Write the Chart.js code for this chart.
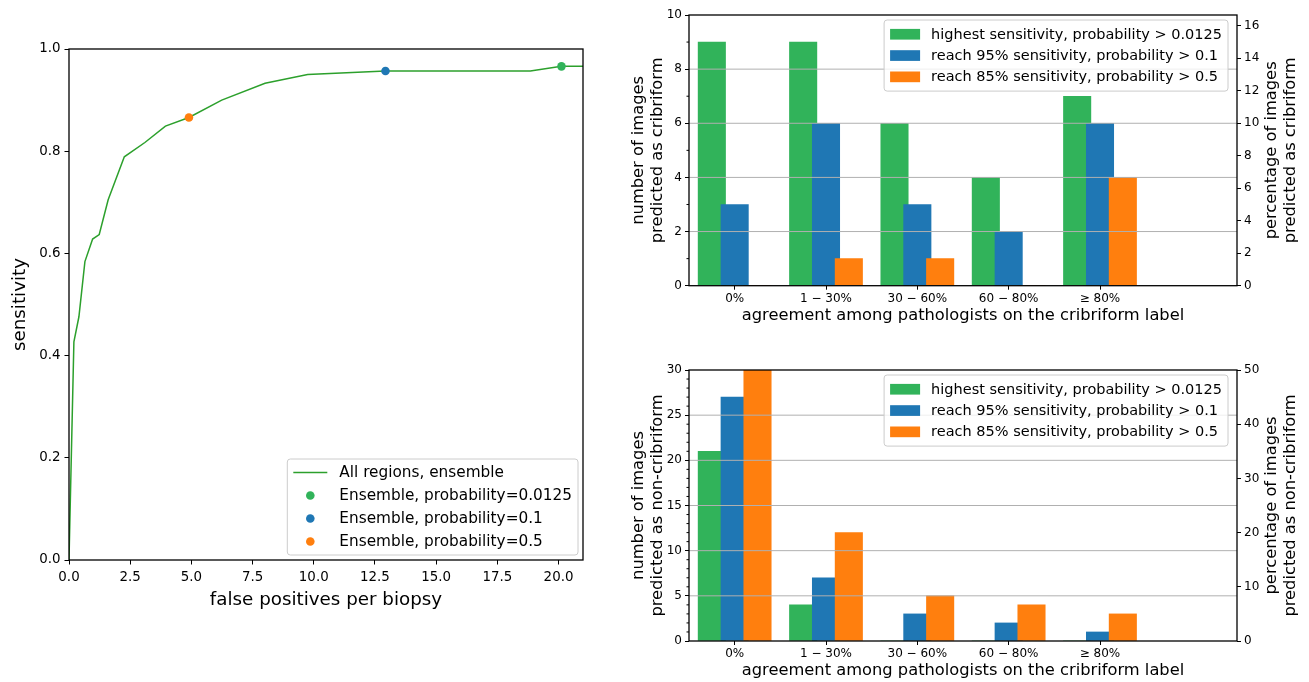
<!DOCTYPE html>
<html><head><meta charset="utf-8">
<script src="https://cdn.jsdelivr.net/npm/chart.js@4.4.0/dist/chart.umd.min.js"></script>
<style>
html,body{margin:0;padding:0;background:#fff;}
#wrap{position:relative;width:1309px;height:682px;overflow:hidden;background:#fff;}
canvas{position:absolute;}
</style></head><body>
<div id="wrap">
<canvas id="roc" width="600" height="682" style="left:0;top:0;width:600px;height:682px"></canvas>
<canvas id="crib" width="709" height="341" style="left:600px;top:0;width:709px;height:341px"></canvas>
<canvas id="noncrib" width="709" height="341" style="left:600px;top:341px;width:709px;height:341px"></canvas>
</div>
<script>
// ---------------- data ----------------
// ROC-like curve (left panel)
const falsePositives = [0, 0.2, 0.405, 0.65, 0.965, 1.235, 1.6, 2.26, 3.10, 3.94, 4.90, 6.24, 8.01, 9.75, 12.93, 18.85, 20.12, 21.0];
const sensitivity    = [0, 0.427, 0.476, 0.584, 0.628, 0.637, 0.705, 0.789, 0.817, 0.849, 0.866, 0.900, 0.933, 0.950, 0.957, 0.957, 0.966, 0.966];
const curveLabel = 'All regions, ensemble';
const pointLabels = ['Ensemble, probability=0.0125', 'Ensemble, probability=0.1', 'Ensemble, probability=0.5'];
const pointFP   = [20.12, 12.93, 4.90];
const pointSens = [0.966, 0.957, 0.866];

// bar panels (right)
const agreeLabels = ['0%', '1 \u2212 30%', '30 \u2212 60%', '60 \u2212 80%', '\u2265 80%'];
const seriesNames = ['highest sensitivity, probability > 0.0125', 'reach 95% sensitivity, probability > 0.1', 'reach 85% sensitivity, probability > 0.5'];
const cribHighest  = [9, 9, 6, 4, 7];
const cribReach95  = [3, 6, 3, 2, 6];
const cribReach85  = [0, 1, 1, 0, 4];
const nonHighest   = [21, 4, 0, 0, 0];
const nonReach95   = [27, 7, 3, 2, 1];
const nonReach85   = [30, 12, 5, 4, 3];
const totalImages = 60;

// ---------------- styles ----------------
const FONT = '"DejaVu Sans", "Liberation Sans", sans-serif';
const TEXT = '#000';
const curveColor = '#2ca02c';
const pointColors = ['#31b35a', '#1f77b4', '#ff7f0e'];
const seriesColors = ['#31b35a', '#1f77b4', '#ff7f0e'];
const groupOffsets = [-0.25, 0, 0.25];
const barWidthUnits = 0.3;

Chart.defaults.font.family = FONT;
Chart.defaults.color = TEXT;
Chart.defaults.animation = false;

function roundRectPath(ctx, x, y, w, h, r) {
  ctx.beginPath();
  ctx.moveTo(x + r, y);
  ctx.lineTo(x + w - r, y); ctx.arcTo(x + w, y, x + w, y + r, r);
  ctx.lineTo(x + w, y + h - r); ctx.arcTo(x + w, y + h, x + w - r, y + h, r);
  ctx.lineTo(x + r, y + h); ctx.arcTo(x, y + h, x, y + h - r, r);
  ctx.lineTo(x, y + r); ctx.arcTo(x, y, x + r, y, r);
  ctx.closePath();
}

const framePlugin = {
  id: 'frame',
  afterDraw(chart) {
    const {ctx, chartArea: a} = chart;
    ctx.save();
    ctx.strokeStyle = '#000';
    ctx.lineWidth = 1.3;
    ctx.strokeRect(a.left, a.top, a.right - a.left, a.bottom - a.top);
    ctx.restore();
  }
};

const gridOverPlugin = {
  id: 'gridOver',
  afterDatasetsDraw(chart) {
    const {ctx, chartArea: a, scales: {y}} = chart;
    ctx.save();
    ctx.strokeStyle = '#b0b0b0';
    ctx.lineWidth = 1;
    y.ticks.forEach(t => {
      const py = y.getPixelForValue(t.value);
      if (py <= a.top + 1 || py >= a.bottom - 1) return;
      ctx.beginPath(); ctx.moveTo(a.left, py); ctx.lineTo(a.right, py); ctx.stroke();
    });
    ctx.restore();
  }
};

function minorTickPlugin(step) {
  return {
    id: 'minorTicks',
    afterDraw(chart) {
      const {ctx, chartArea: a, scales: {y}} = chart;
      ctx.save();
      ctx.strokeStyle = '#000';
      ctx.lineWidth = 1;
      for (let v = y.min; v <= y.max + 1e-9; v += step) {
        if (y.ticks.some(t => Math.abs(t.value - v) < 1e-9)) continue;
        const py = y.getPixelForValue(v);
        ctx.beginPath(); ctx.moveTo(a.left - 2.5, py); ctx.lineTo(a.left, py); ctx.stroke();
      }
      ctx.restore();
    }
  };
}

const barWidthPlugin = {
  id: 'barWidth',
  afterLayout(chart) {
    const x = chart.scales.x;
    const w = Math.abs(x.getPixelForValue(barWidthUnits) - x.getPixelForValue(0));
    chart.data.datasets.forEach(d => { d.barThickness = w; });
  }
};

function rightTitlePlugin(lines, o) {
  return {
    id: 'rightTitle',
    afterDraw(chart) {
      const {ctx, chartArea: a} = chart;
      ctx.save();
      ctx.font = o.size + 'px ' + FONT;
      ctx.fillStyle = TEXT;
      ctx.textAlign = 'center';
      ctx.textBaseline = 'middle';
      ctx.translate(a.right + o.offset, (a.top + a.bottom) / 2);
      ctx.rotate(-Math.PI / 2);
      lines.forEach((l, i) => ctx.fillText(l, 0, i * o.lineH));
      ctx.restore();
    }
  };
}

function legendPlugin(o) {
  return {
    id: 'boxLegend',
    afterDraw(chart) {
      const {ctx, chartArea: a} = chart;
      const items = chart.data.datasets.map(d => ({label: d.label, color: d.legendColor || d.backgroundColor, kind: d.legendKind || 'patch'}));
      ctx.save();
      ctx.font = o.fontSize + 'px ' + FONT;
      const tw = Math.max(...items.map(it => ctx.measureText(it.label).width));
      const w = o.padL + o.handle + o.gap + tw + o.padR;
      const h = o.padY * 2 + items.length * o.rowH;
      const x0 = a.right - o.insetRight - w;
      const y0 = o.vAlign === 'top' ? a.top + o.insetV : a.bottom - o.insetV - h;
      roundRectPath(ctx, x0, y0, w, h, 3);
      ctx.fillStyle = 'rgba(255,255,255,0.8)';
      ctx.fill();
      ctx.strokeStyle = '#cccccc';
      ctx.lineWidth = 1;
      ctx.stroke();
      items.forEach((it, i) => {
        const cy = y0 + o.padY + o.rowH * (i + 0.5);
        const hx = x0 + o.padL;
        if (it.kind === 'line') {
          ctx.strokeStyle = it.color; ctx.lineWidth = 1.5;
          ctx.beginPath(); ctx.moveTo(hx, cy); ctx.lineTo(hx + o.handle, cy); ctx.stroke();
        } else if (it.kind === 'dot') {
          ctx.fillStyle = it.color;
          ctx.beginPath(); ctx.arc(hx + o.handle / 2, cy, 4.3, 0, Math.PI * 2); ctx.fill();
        } else {
          ctx.fillStyle = it.color;
          ctx.fillRect(hx, cy - o.patchH / 2, o.handle, o.patchH);
        }
        ctx.fillStyle = TEXT;
        ctx.textBaseline = 'middle';
        ctx.textAlign = 'left';
        ctx.fillText(it.label, hx + o.handle + o.gap, cy + 0.5);
      });
      ctx.restore();
    }
  };
}

const tickGrid = {display: true, drawOnChartArea: false, drawTicks: true, tickLength: 4, tickColor: '#000', tickWidth: 1, offset: false};

// ---------------- left panel ----------------
new Chart('roc', {
  type: 'scatter',
  data: {
    datasets: [
      {
        label: curveLabel,
        data: falsePositives.map((x, i) => ({x, y: sensitivity[i]})),
        showLine: true, borderColor: curveColor, borderWidth: 1.5,
        pointRadius: 0, order: 5, legendKind: 'line', legendColor: curveColor
      },
      ...pointLabels.map((lab, k) => ({
        label: lab,
        data: [{x: pointFP[k], y: pointSens[k]}],
        showLine: false, pointRadius: 4.3, pointBorderWidth: 0,
        backgroundColor: pointColors[k], pointBackgroundColor: pointColors[k],
        order: 1, legendKind: 'dot', legendColor: pointColors[k]
      }))
    ]
  },
  options: {
    responsive: false,
    animation: false,
    layout: {padding: {left: 0, right: 17, top: 49, bottom: 70}},
    plugins: {legend: {display: false}, tooltip: {enabled: false}},
    scales: {
      x: {
        type: 'linear', min: 0, max: 21,
        ticks: {stepSize: 2.5, includeBounds: false, callback: v => Number(v).toFixed(1), font: {size: 13.4}, padding: 5, maxRotation: 0, autoSkip: false},
        grid: {...tickGrid, tickLength: 4.5},
        border: {display: false},
        title: {display: true, text: 'false positives per biopsy', font: {size: 18.3}, padding: {top: 0, bottom: 1}},
        afterFit(s) { s.height = 52; }
      },
      y: {
        min: 0, max: 1,
        ticks: {stepSize: 0.2, callback: v => Number(v).toFixed(1), font: {size: 13.4}, padding: 4},
        grid: {...tickGrid, tickLength: 4.5},
        border: {display: false},
        title: {display: true, text: 'sensitivity', font: {size: 18.3}, padding: {top: 9, bottom: 0}},
        afterFit(s) { s.width = 69; }
      }
    }
  },
  plugins: [framePlugin, legendPlugin({fontSize: 15.3, padL: 6, handle: 34, gap: 12, padR: 6, padY: 2, rowH: 23, insetRight: 5, insetV: 5, vAlign: 'bottom', patchH: 10})]
});

// ---------------- right panels ----------------
function barPanel(id, series, leftMax, leftStep, minorStep, rightStep, leftTitle, rightTitle, padTop, padBottom) {
  return new Chart(id, {
    type: 'bar',
    data: {
      datasets: series.map((vals, k) => ({
        label: seriesNames[k],
        data: vals.map((v, i) => ({x: i + groupOffsets[k], y: v})),
        backgroundColor: seriesColors[k],
        borderWidth: 0,
        grouped: false,
        order: series.length - k,
        xAxisID: 'x', yAxisID: 'y'
      }))
    },
    options: {
      responsive: false,
      animation: false,
      layout: {padding: {left: 0, right: 0, top: padTop, bottom: padBottom}},
      plugins: {legend: {display: false}, tooltip: {enabled: false}},
      scales: {
        x: {
          type: 'linear', min: -0.5, max: agreeLabels.length + 0.5, offset: false,
          afterBuildTicks(s) { s.ticks = agreeLabels.map((_, i) => ({value: i})); },
          ticks: {callback: v => agreeLabels[v] ?? '', font: {size: 12}, padding: 2, autoSkip: false, maxRotation: 0},
          grid: tickGrid,
          border: {display: false},
          title: {display: true, text: 'agreement among pathologists on the cribriform label', font: {size: 16.3}, padding: {top: 0, bottom: 1.3}},
          afterFit(s) { s.height = 41; }
        },
        y: {
          min: 0, max: leftMax,
          ticks: {stepSize: leftStep, font: {size: 12}, padding: 3},
          grid: tickGrid,
          border: {display: false},
          title: {display: true, text: leftTitle, font: {size: 16.3, lineHeight: 1.15}, padding: {top: 29.6, bottom: 0}},
          afterFit(s) { s.width = 89; }
        },
        y2: {
          position: 'right',
          min: 0, max: leftMax * 100 / totalImages,
          ticks: {stepSize: rightStep, includeBounds: false, font: {size: 12}, padding: 3},
          grid: tickGrid,
          border: {display: false},
          afterFit(s) { s.width = 72; }
        }
      }
    },
    plugins: [barWidthPlugin, gridOverPlugin, framePlugin, minorTickPlugin(minorStep),
      rightTitlePlugin(rightTitle, {size: 16.3, offset: 35, lineH: 18.7}),
      legendPlugin({fontSize: 14.5, padL: 6, handle: 30, gap: 11, padR: 6, padY: 3.6, rowH: 21.3, insetRight: 9, insetV: 5, vAlign: 'top', patchH: 10.7})]
  });
}

barPanel('crib', [cribHighest, cribReach95, cribReach85], 10, 2, 1, 2,
  ['number of images', 'predicted as cribriform'], ['percentage of images', 'predicted as cribriform'], 15, 14.3);
barPanel('noncrib', [nonHighest, nonReach95, nonReach85], 30, 5, 1, 10,
  ['number of images', 'predicted as non-cribriform'], ['percentage of images', 'predicted as non-cribriform'], 29, 0);
</script>
</body></html>
